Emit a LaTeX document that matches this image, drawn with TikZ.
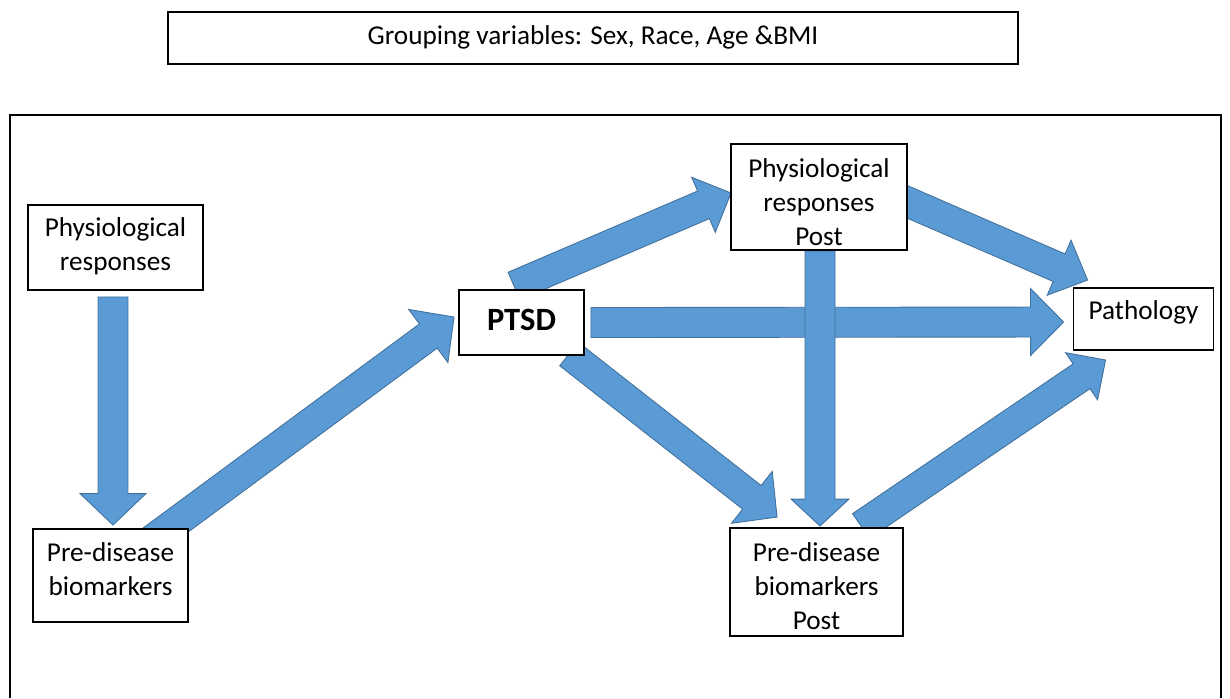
\documentclass[tikz,border=0pt]{standalone}
\usepackage{fontspec}
\setmainfont{Carlito}
\usetikzlibrary{calc}
\pgfdeclarelayer{background}
\pgfsetlayers{background,main}
\definecolor{arrowblue}{HTML}{5B9BD5}
\definecolor{arrowedge}{HTML}{41719C}

% block arrow from tail #1 to tip #2, head half-width #3, head length #4
\newcommand{\shafthalf}{0.3cm}
\newcommand{\blockarrow}[4]{%
  \coordinate (ba-base) at ($(#2)!#4!(#1)$);
  \draw[flow] ($(#1)!\shafthalf!90:(#2)$)
    -- ($(ba-base)!\shafthalf!90:(#2)$)
    -- ($(ba-base)!#3!90:(#2)$)
    -- (#2)
    -- ($(ba-base)!#3!-90:(#2)$)
    -- ($(ba-base)!\shafthalf!-90:(#2)$)
    -- ($(#1)!\shafthalf!-90:(#2)$) -- cycle;
}

\begin{document}
\begin{tikzpicture}[x=0.02cm, y=-0.02cm,
  box/.style={draw=black, line width=1.1pt, fill=white, inner sep=0pt},
  lbl/.style={font=\fontsize{15.5}{19.3}\selectfont, align=center, inner sep=0pt, text=black},
  flow/.style={fill=arrowblue, draw=arrowedge, line width=0.5pt, line join=miter}]
\useasboundingbox (0,0) rectangle (1230,698);

% open frame around the model
\draw[line width=1.1pt] (10,698) -- (10,115) -- (1221,115) -- (1221,698);

% boxes
\node[box, minimum width=17cm, minimum height=1.04cm,
  label={[lbl, yshift=0.02cm]center:{Grouping variables: Sex, Race, Age \&BMI}}] (group) at (593,38) {};
\node[box, minimum width=3.5cm, minimum height=1.7cm,
  label={[lbl, yshift=0.03cm]center:{Physiological\\responses}}] (phys) at (115.5,247.5) {};
\node[box, minimum width=3.1cm, minimum height=1.86cm,
  label={[lbl, yshift=0.12cm]center:{Pre-disease\\biomarkers}}] (pre) at (110.5,575.5) {};
\node[box, minimum width=2.5cm, minimum height=1.3cm,
  label={[lbl, yshift=0.05cm, font=\fontsize{18.5}{22}\selectfont\bfseries]center:{PTSD}}] (ptsd) at (521.5,322.5) {};
\node[box, minimum width=3.52cm, minimum height=2.12cm,
  label={[lbl, yshift=-0.1cm]center:{Physiological\\responses\\Post}}] (physpost) at (819,197) {};
\node[box, minimum width=2.8cm, minimum height=1.24cm,
  label={[lbl, yshift=0.14cm]center:{Pathology}}] (path) at (1143.5,319) {};
\node[box, minimum width=3.46cm, minimum height=2.16cm,
  label={[lbl, yshift=-0.08cm]center:{Pre-disease\\biomarkers\\Post}}] (prepost) at (816.5,582) {};

% arrow ends, placed relative to the boxes
\coordinate (a1t) at ($(phys.south)+(-2.5,6)$);
\coordinate (a1h) at ($(pre.north)+(2.5,-3)$);
\coordinate (a2t) at ($(pre.center)+(14.5,-15.5)$);
\coordinate (a2h) at ($(ptsd.west)+(-4,-5.5)$);
\coordinate (a3t) at ($(ptsd.north)+(-7.5,-3)$);
\coordinate (a3h) at ($(physpost.west)+(1,-4)$);
\coordinate (a4t) at ($(ptsd.east)+(6,0)$);
\coordinate (a4h) at ($(path.west)+(-9,3)$);
\coordinate (a5t) at ($(physpost.east)+(-28,-7)$);
\coordinate (a5h) at ($(path.north west)+(15,-7)$);
\coordinate (a6t) at ($(ptsd.south east)+(-16,-2)$);
\coordinate (a6h) at ($(prepost.north west)+(48,-10)$);
\coordinate (a7t) at ($(physpost.south)+(1,0)$);
\coordinate (a7h) at ($(prepost.north)+(3.5,-1)$);
\coordinate (a8t) at ($(prepost.north)+(44.5,-1)$);
\coordinate (a8h) at ($(path.south west)+(33,9)$);

\begin{pgfonlayer}{background}
  \blockarrow{a1t}{a1h}{0.66cm}{0.63cm}
  \blockarrow{a2t}{a2h}{0.66cm}{0.64cm}
  \blockarrow{a3t}{a3h}{0.6cm}{0.6cm}
  \blockarrow{a4t}{a4h}{0.67cm}{0.66cm}
  \blockarrow{a5t}{a5h}{0.6cm}{0.62cm}
  \blockarrow{a6t}{a6h}{0.66cm}{0.64cm}
  \blockarrow{a7t}{a7h}{0.58cm}{0.54cm}
  \blockarrow{a8t}{a8h}{0.57cm}{0.58cm}
\end{pgfonlayer}
\end{tikzpicture}
\end{document}
